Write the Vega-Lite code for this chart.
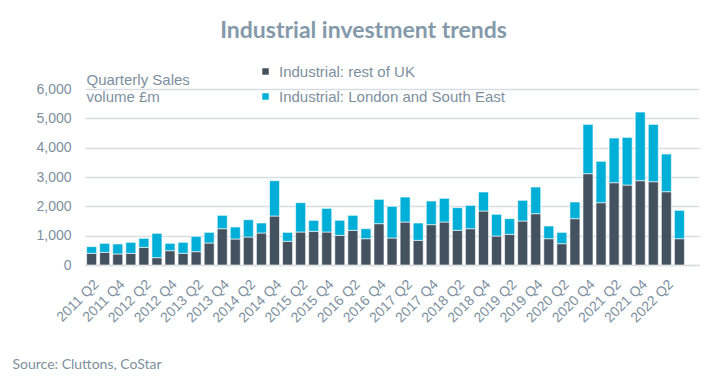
{
  "$schema": "https://vega.github.io/schema/vega-lite/v6.json",
  "width": 614,
  "height": 176,
  "padding": {"left": 12, "top": 20, "right": 28, "bottom": 10},
  "background": "white",
  "title": {
    "text": "Industrial investment trends",
    "font": "Lato",
    "fontSize": 23,
    "fontWeight": "bold",
    "color": "#8499aa",
    "anchor": "middle",
    "frame": "bounds",
    "offset": 21,
    "dx": 8
  },
  "data": {
    "values": [
      {"q": "2011 Q2", "rest": 398, "london": 227},
      {"q": "2011 Q3", "rest": 432, "london": 306},
      {"q": "2011 Q4", "rest": 375, "london": 341},
      {"q": "2012 Q1", "rest": 398, "london": 374},
      {"q": "2012 Q2", "rest": 602, "london": 307},
      {"q": "2012 Q3", "rest": 250, "london": 829},
      {"q": "2012 Q4", "rest": 488, "london": 250},
      {"q": "2013 Q1", "rest": 398, "london": 374},
      {"q": "2013 Q2", "rest": 454, "london": 523},
      {"q": "2013 Q3", "rest": 750, "london": 363},
      {"q": "2013 Q4", "rest": 1238, "london": 455},
      {"q": "2014 Q1", "rest": 886, "london": 409},
      {"q": "2014 Q2", "rest": 954, "london": 591},
      {"q": "2014 Q3", "rest": 1091, "london": 340},
      {"q": "2014 Q4", "rest": 1670, "london": 1204},
      {"q": "2015 Q1", "rest": 807, "london": 306},
      {"q": "2015 Q2", "rest": 1125, "london": 999},
      {"q": "2015 Q3", "rest": 1147, "london": 375},
      {"q": "2015 Q4", "rest": 1125, "london": 806},
      {"q": "2016 Q1", "rest": 1011, "london": 511},
      {"q": "2016 Q2", "rest": 1181, "london": 512},
      {"q": "2016 Q3", "rest": 897, "london": 341},
      {"q": "2016 Q4", "rest": 1409, "london": 829},
      {"q": "2017 Q1", "rest": 920, "london": 1079},
      {"q": "2017 Q2", "rest": 1465, "london": 852},
      {"q": "2017 Q3", "rest": 841, "london": 590},
      {"q": "2017 Q4", "rest": 1375, "london": 806},
      {"q": "2018 Q1", "rest": 1465, "london": 807},
      {"q": "2018 Q2", "rest": 1181, "london": 773},
      {"q": "2018 Q3", "rest": 1238, "london": 795},
      {"q": "2018 Q4", "rest": 1840, "london": 648},
      {"q": "2019 Q1", "rest": 988, "london": 739},
      {"q": "2019 Q2", "rest": 1045, "london": 534},
      {"q": "2019 Q3", "rest": 1500, "london": 704},
      {"q": "2019 Q4", "rest": 1749, "london": 909},
      {"q": "2020 Q1", "rest": 897, "london": 432},
      {"q": "2020 Q2", "rest": 727, "london": 386},
      {"q": "2020 Q3", "rest": 1579, "london": 568},
      {"q": "2020 Q4", "rest": 3113, "london": 1681},
      {"q": "2021 Q1", "rest": 2124, "london": 1409},
      {"q": "2021 Q2", "rest": 2806, "london": 1522},
      {"q": "2021 Q3", "rest": 2726, "london": 1625},
      {"q": "2021 Q4", "rest": 2874, "london": 2340},
      {"q": "2022 Q1", "rest": 2840, "london": 1954},
      {"q": "2022 Q2", "rest": 2499, "london": 1284},
      {"q": "2022 Q3", "rest": 897, "london": 966}
    ]
  },
  "transform": [
    {"fold": ["rest", "london"], "as": ["series", "value"]}
  ],
  "mark": {"type": "bar", "stroke": "white", "strokeWidth": 0.6},
  "encoding": {
    "x": {
      "field": "q",
      "type": "nominal",
      "sort": null,
      "scale": {"paddingInner": 0.234, "paddingOuter": 0.62, "align": 0.1},
      "axis": {
        "values": ["2011 Q2","2011 Q4","2012 Q2","2012 Q4","2013 Q2","2013 Q4","2014 Q2","2014 Q4","2015 Q2","2015 Q4","2016 Q2","2016 Q4","2017 Q2","2017 Q4","2018 Q2","2018 Q4","2019 Q2","2019 Q4","2020 Q2","2020 Q4","2021 Q2","2021 Q4","2022 Q2"],
        "labelAngle": -45,
        "labelFontSize": 14,
        "labelPadding": 12,
        "ticks": false,
        "domainColor": "#d9dde2",
        "domainWidth": 1.5,
        "title": "Source: Cluttons, CoStar",
        "titleFont": "Lato",
        "titleFontSize": 14,
        "titleFontWeight": "normal",
        "titleAngle": 0,
        "titleAlign": "left",
        "titleBaseline": "middle",
        "titleX": -73,
        "titleY": 99
      }
    },
    "y": {
      "field": "value",
      "type": "quantitative",
      "stack": "zero",
      "scale": {"domain": [0, 6000]},
      "axis": {
        "values": [0, 1000, 2000, 3000, 4000, 5000, 6000],
        "format": ",.0f",
        "labelFontSize": 14,
        "labelPadding": 14,
        "ticks": false,
        "domain": false,
        "gridColor": "#d9dde2",
        "gridWidth": 1.5,
        "title": ["Quarterly Sales", "volume £m"],
        "titleFontSize": 15,
        "titleFontWeight": "normal",
        "titleAngle": 0,
        "titleAlign": "left",
        "titleBaseline": "alphabetic",
        "titleLineHeight": 17,
        "titleX": 1,
        "titleY": -5
      }
    },
    "color": {
      "field": "series",
      "type": "nominal",
      "scale": {"domain": ["rest", "london"], "range": ["#44525f", "#00afd8"]},
      "legend": {
        "title": null,
        "orient": "none",
        "legendX": 173,
        "legendY": -25,
        "direction": "vertical",
        "symbolType": "square",
        "symbolSize": 42,
        "symbolStrokeWidth": 0,
        "labelFontSize": 15,
        "labelOffset": 6,
        "labelLimit": 400,
        "rowPadding": 9,
        "labelExpr": "datum.value == 'rest' ? 'Industrial: rest of UK' : 'Industrial: London and South East'"
      }
    },
    "order": {"field": "series", "sort": "descending"}
  },
  "config": {
    "view": {"stroke": null},
    "font": "Liberation Sans",
    "axis": {
      "labelColor": "#7d8f9e",
      "titleColor": "#7d8f9e",
      "labelFont": "Liberation Sans",
      "titleFont": "Liberation Sans"
    },
    "legend": {"labelColor": "#7d8f9e", "labelFont": "Liberation Sans"}
  }
}
